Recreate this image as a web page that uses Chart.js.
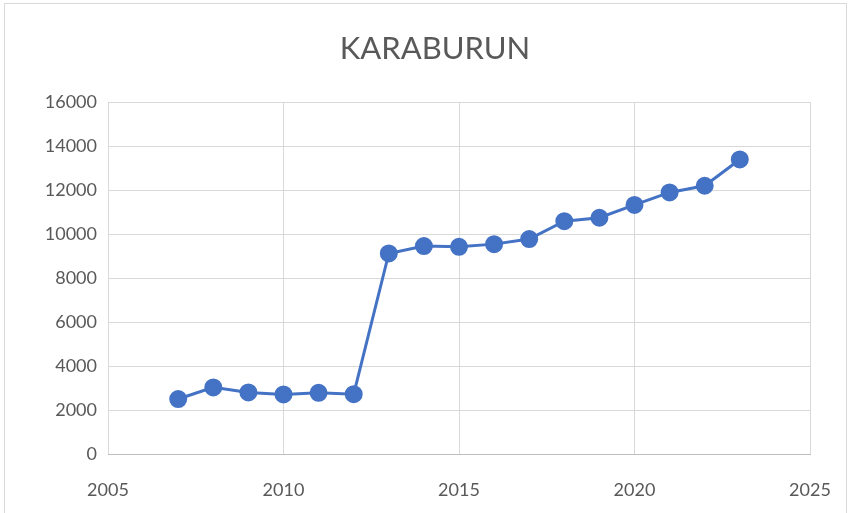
<!DOCTYPE html>
<html>
<head>
<meta charset="utf-8">
<script src="https://cdn.jsdelivr.net/npm/chart.js@4.4.1/dist/chart.umd.min.js"></script>
<style>
  html, body { margin: 0; padding: 0; background: #fff; }
  #wrap { position: relative; width: 850px; height: 513px; }
  #frame { position: absolute; left: 4px; top: 3px; width: 843px; height: 520px; border: 1px solid #d9d9d9; box-sizing: border-box; pointer-events: none; }
  canvas { position: absolute; left: 0; top: 0; }
</style>
</head>
<body>
<div id="wrap">
  <canvas id="chart" width="850" height="513"></canvas>
  <div id="frame"></div>
</div>
<script>
  // 年份与人口
  const years = [2007, 2008, 2009, 2010, 2011, 2012, 2013, 2014, 2015, 2016, 2017, 2018, 2019, 2020, 2021, 2022, 2023];
  const population = [2500, 3030, 2800, 2710, 2780, 2720, 9120, 9455, 9425, 9545, 9775, 10590, 10745, 11330, 11895, 12200, 13395];
  const chartTitle = 'KARABURUN';

  const textColor = '#595959';
  const gridColor = '#d9d9d9';
  const fontFamily = 'Lato, "Open Sans", sans-serif';

  // 标题稍微右移，和原图对齐
  const shiftTitle = {
    id: 'shiftTitle',
    afterLayout(chart) {
      if (chart.titleBlock) {
        chart.titleBlock.left = 60;
        chart.titleBlock.right = 810;
      }
    }
  };

  new Chart(document.getElementById('chart'), {
    type: 'line',
    data: {
      datasets: [{
        data: years.map((y, i) => ({ x: y, y: population[i] })),
        borderColor: '#4472c4',
        backgroundColor: '#4472c4',
        borderWidth: 3,
        pointRadius: 7.5,
        pointHoverRadius: 7.5,
        tension: 0
      }]
    },
    options: {
      responsive: false,
      animation: false,
      layout: { padding: { left: 0, right: 40, top: 0, bottom: 0 } },
      plugins: {
        legend: { display: false },
        tooltip: { enabled: false },
        title: {
          display: true,
          text: chartTitle,
          color: textColor,
          font: { family: fontFamily, size: 31, weight: 'normal' },
          padding: { top: 30, bottom: 35 }
        }
      },
      scales: {
        x: {
          type: 'linear',
          min: 2005,
          max: 2025,
          ticks: {
            stepSize: 5,
            color: textColor,
            font: { family: fontFamily, size: 18 },
            padding: 25,
            maxRotation: 0,
            callback: v => String(v)
          },
          grid: { color: gridColor, lineWidth: 1, drawTicks: false },
          border: { color: '#bfbfbf' },
          afterFit: s => { s.height = 59; s.paddingLeft = 0; s.paddingRight = 0; }
        },
        y: {
          min: 0,
          max: 16000,
          ticks: {
            stepSize: 2000,
            color: textColor,
            font: { family: fontFamily, size: 18 },
            padding: 11,
            callback: v => String(v)
          },
          grid: { color: gridColor, lineWidth: 1, drawTicks: false },
          border: { display: false },
          afterFit: s => { s.width = 108; }
        }
      }
    },
    plugins: [shiftTitle]
  });
</script>
</body>
</html>
